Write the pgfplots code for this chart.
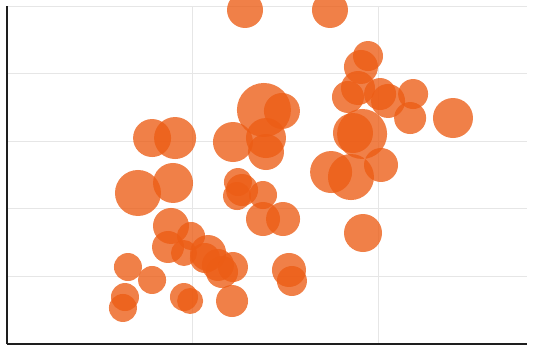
\documentclass[border=0pt]{standalone}
\usepackage{pgfplots}
\pgfplotsset{compat=1.18}
\usepackage{pgfplotstable}
\definecolor{bub}{RGB}{236,92,20}
\definecolor{gridc}{RGB}{230,230,230}
\definecolor{axc}{RGB}{30,30,30}
\pgfplotstableread{
x y r
1.283 4.941 18
1.741 4.941 18
1.946 4.260 15
1.908 4.098 17
1.838 3.654 16
1.892 3.787 17
2.011 3.698 16
2.054 3.595 17
2.189 3.698 15
2.173 3.343 16
2.404 3.343 20
1.914 3.107 25
1.865 3.121 20
1.747 2.544 21
1.854 2.470 23
2.016 2.648 17
1.919 1.642 19
1.520 1.095 17
1.536 0.932 15
1.488 1.849 17
0.782 3.047 19
0.906 3.047 21
0.706 2.234 23
0.895 2.382 20
1.218 2.988 20
1.385 3.462 27
1.482 3.447 18
1.396 3.047 20
1.396 2.840 18
1.245 2.396 14
1.267 2.278 16
1.240 2.189 14
1.380 2.204 14
1.380 1.849 17
0.884 1.746 18
0.992 1.598 14
0.868 1.435 16
0.954 1.346 13
1.084 1.346 18
1.067 1.272 15
1.137 1.169 16
1.218 1.139 15
1.159 1.065 16
0.652 1.139 14
0.782 0.947 14
0.636 0.695 14
0.625 0.533 14
0.954 0.695 14
0.987 0.636 13
1.213 0.636 16
}\bubbles
\begin{document}
\begin{tikzpicture}
\useasboundingbox (-7pt,-10pt) rectangle (530pt,344pt);
\begin{axis}[
  scale only axis, width=520pt, height=338pt,
  xmin=0, xmax=2.803, ymin=0, ymax=5,
  axis x line=bottom, axis y line=left,
  axis line style={axc, line width=1.3pt, -},
  xtick={1,2}, ytick={1,2,3,4,5},
  xticklabels={}, yticklabels={},
  major tick length=0pt,
  grid=major, grid style={gridc, line width=0.8pt},
  clip mode=individual,
]
\addplot[only marks, mark=*, color=bub,
  mark options={draw opacity=0, fill=bub, fill opacity=0.78, line width=0pt},
  visualization depends on={\thisrow{r}\as\rad},
  scatter, scatter/use mapped color={draw=bub, draw opacity=0, fill=bub},
  scatter/@pre marker code/.append style={/tikz/mark size=\rad}
] table[x=x,y=y] {\bubbles};
\end{axis}
\end{tikzpicture}
\end{document}
